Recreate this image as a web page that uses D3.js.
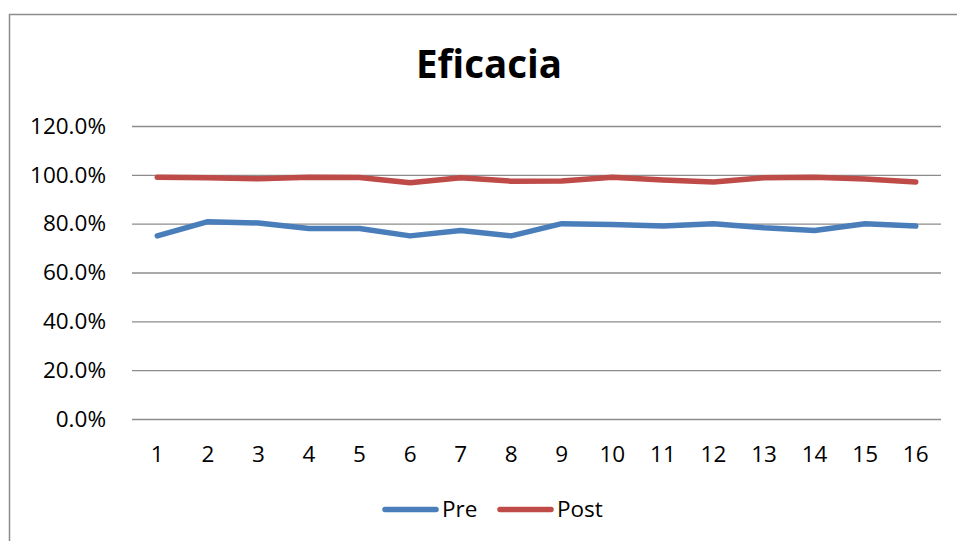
<!DOCTYPE html>
<html>
<head>
<meta charset="utf-8">
<script src="https://cdn.jsdelivr.net/npm/d3@7"></script>
<style>
  html, body { margin: 0; padding: 0; background: #fff; }
  svg { display: block; font-family: "Open Sans", "Liberation Sans", sans-serif; }
</style>
</head>
<body>
<svg id="chart" width="957" height="541"></svg>
<script>
// Chart data
const categories = ["1","2","3","4","5","6","7","8","9","10","11","12","13","14","15","16"];
const preValues  = [0.750, 0.808, 0.803, 0.780, 0.780, 0.750, 0.772, 0.750, 0.800, 0.797, 0.790, 0.800, 0.783, 0.772, 0.800, 0.790];
const postValues = [0.990, 0.988, 0.984, 0.990, 0.989, 0.968, 0.988, 0.974, 0.975, 0.990, 0.979, 0.971, 0.988, 0.990, 0.983, 0.971];
const seriesNames = ["Pre", "Post"];
const seriesColors = ["#4A7EBB", "#BE4B48"];
const yTicks = [0, 0.2, 0.4, 0.6, 0.8, 1.0, 1.2];
const titleText = "Eficacia";

const svg = d3.select("#chart");
const W = 957, H = 541;
const plot = { left: 132, right: 941, top: 126, bottom: 419 };
const labelSize = 22.5;

// Outer chart frame
svg.append("rect")
  .attr("x", 9.5).attr("y", 14.5)
  .attr("width", W + 10).attr("height", H + 10)
  .attr("fill", "#fff").attr("stroke", "#8c8c8c").attr("stroke-width", 1.5);

// Title
svg.append("text")
  .attr("x", 489).attr("y", 78)
  .attr("text-anchor", "middle")
  .attr("font-size", 38.5).attr("font-weight", "bold")
  .attr("fill", "#000")
  .text(titleText);

const x = d3.scaleBand().domain(categories).range([plot.left, plot.right]);
const y = d3.scaleLinear().domain([0, 1.2]).range([plot.bottom, plot.top]);

// Horizontal gridlines with percentage labels
const yAxis = d3.axisLeft(y)
  .tickValues(yTicks)
  .tickSize(-(plot.right - plot.left))
  .tickPadding(26)
  .tickFormat(d3.format(".1%"));

const gy = svg.append("g")
  .attr("transform", `translate(${plot.left},0)`)
  .call(yAxis);
gy.select(".domain").remove();
gy.selectAll(".tick line").attr("stroke", "#8c8c8c").attr("stroke-width", 1.3);
gy.selectAll(".tick text")
  .attr("font-size", labelSize).attr("fill", "#000")
  .attr("font-family", "Open Sans, sans-serif");

// Category labels
const xAxis = d3.axisBottom(x).tickSize(0).tickPadding(27);
const gx = svg.append("g")
  .attr("transform", `translate(0,${plot.bottom})`)
  .call(xAxis);
gx.select(".domain").remove();
gx.selectAll(".tick text")
  .attr("font-size", labelSize).attr("fill", "#000")
  .attr("font-family", "Open Sans, sans-serif");

// Series lines
const line = d3.line()
  .x((d, i) => x(categories[i]) + x.bandwidth() / 2)
  .y(d => y(d));

[preValues, postValues].forEach((vals, k) => {
  svg.append("path")
    .datum(vals)
    .attr("d", line)
    .attr("fill", "none")
    .attr("stroke", seriesColors[k])
    .attr("stroke-width", 5.5)
    .attr("stroke-linejoin", "round")
    .attr("stroke-linecap", "round");
});

// Legend
const legendItems = [
  { name: seriesNames[0], color: seriesColors[0], x0: 385 },
  { name: seriesNames[1], color: seriesColors[1], x0: 500 }
];
const ly = 509.5;
legendItems.forEach(it => {
  svg.append("line")
    .attr("x1", it.x0).attr("x2", it.x0 + 51)
    .attr("y1", ly).attr("y2", ly)
    .attr("stroke", it.color).attr("stroke-width", 5.5)
    .attr("stroke-linecap", "round");
  svg.append("text")
    .attr("x", it.x0 + 57).attr("y", ly)
    .attr("dy", "0.35em")
    .attr("font-size", labelSize).attr("fill", "#000")
    .text(it.name);
});
</script>
</body>
</html>
